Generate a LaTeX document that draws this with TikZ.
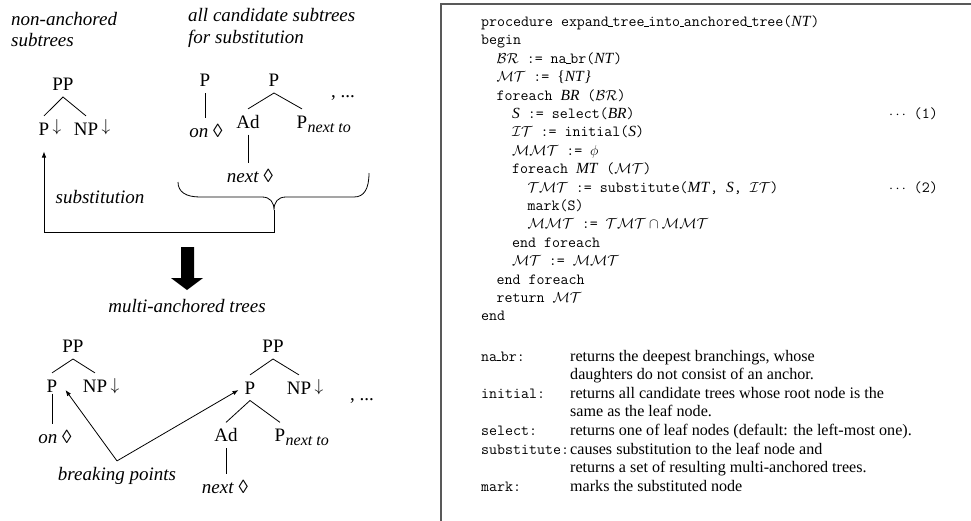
\documentclass[tikz,border=0pt]{standalone}
\usepackage{fontspec}
\setmainfont{Liberation Serif}
\usetikzlibrary{arrows.meta}

% font sizes used in the trees, the procedure and the glossary
\newcommand\trfont{\fontsize{19}{22}\selectfont}
\newcommand\labfont{\fontsize{19}{22}\selectfont\itshape}
\newcommand\idxfont{\fontsize{16}{18}\selectfont\itshape}
\newcommand\arrfont{\fontsize{16}{18}\selectfont}
\newcommand\codefont{\fontsize{15.5}{18}\selectfont\ttfamily}
\newcommand\descfont{\fontsize{16.1}{18}\selectfont}
% low, tight underscore as in classic typewriter listings
\newcommand\uscore{\leavevmode\kern-.03em\vbox{\hrule height .8pt width .3em}\kern-.03em}
% italic variable name inside the listing
\newcommand\vname[1]{\textrm{\itshape #1\/}}

\tikzset{
  lab/.style={inner sep=0pt, outer ysep=6.5pt, text height=12.6pt,
              text depth=0pt, font=\trfont, anchor=base},
  itlab/.style={inner sep=0pt, outer ysep=6.5pt, text height=12.6pt,
              text depth=0pt, font=\labfont, anchor=base},
  caption/.style={inner sep=0pt, font=\labfont, anchor=base west},
  subarr/.style={inner sep=0pt, font=\arrfont, anchor=south},
  idx/.style={inner sep=0pt, font=\idxfont, anchor=base west},
  branch/.style={line width=0.8pt},
  pointer/.style={line width=0.8pt, -{Latex[length=6pt,width=4.5pt]}},
  code/.style={inner sep=0pt, font=\codefont, anchor=base west},
  desc/.style={inner sep=0pt, font=\descfont, anchor=base west},
  frame/.style={line width=1.3pt, black!65},
}

\begin{document}
\begin{tikzpicture}[x=1pt,y=-1pt]
\useasboundingbox (0,0) rectangle (971,520);

% ---------- captions ----------
\node[caption] (cap1a) at (11,25) {non-anchored};
\node[caption] (cap1b) at (11,46.5) {subtrees};
\node[caption] (cap2a) at (188,21.5) {all candidate subtrees};
\node[caption] (cap2b) at (188,43.5) {for substitution};

% ---------- non-anchored subtree ----------
\node[lab] (pp1) at (63,90.5) {PP};
\node[lab] (p1)  at (44,135) {P};
\node[lab] (np1) at (86,135) {NP};
\node[subarr] (a1) at (57,135) {$\downarrow$};
\node[subarr] (a2) at (106,135) {$\downarrow$};
\draw[branch] (p1.north) -- (pp1.south) -- (np1.north);

% ---------- candidate subtrees ----------
\node[lab] (p2)  at (205,86.5) {P};
\node[lab] (on2) at (206,137) {\textit{on} ◊};
\draw[branch] (p2.south) -- (p2.south |- on2.north);

\node[lab] (p3)  at (274,86.5) {P};
\node[lab] (ad3) at (248,128) {Ad};
\node[lab] (pn3) at (302,128) {P};
\node[idx] (pn3i) at ([shift={(0,4)}]pn3.base east) {next to};
\node[lab] (nx3) at (250,182) {\textit{next} ◊};
\draw[branch] (ad3.north) -- (p3.south) -- (pn3.north);
\draw[branch] (ad3.south) -- (ad3.south |- nx3.north);
\node[lab] (etc1) at (343,97) {, ...};

% brace gathering the candidates
\coordinate (btip) at (274,210);
\draw[branch] (178,182) .. controls (178,192) and (186,197) .. (200,197)
  -- (262,197) .. controls (270,197) and (274,202) .. (btip)
  .. controls (274,202) and (278,197) .. (286,197)
  -- (354,197) .. controls (364,197) and (369,189) .. (369,173);

% substitution pointer
\draw[pointer] (btip) -- ++(0,22) -| ([shift={(0,10)}]p1.south);
\node[itlab] (subst) at (100,203) {substitution};

% ---------- big arrow ----------
\fill[black] (181,247) -- (194,247) -- (194,278) -- (203,278) -- (187,290)
  -- (171,278) -- (181,278) -- cycle;
\node[itlab] (multi) at (187,312.5) {multi-anchored trees};

% ---------- multi-anchored trees ----------
\node[lab] (pp4) at (73,352.5) {PP};
\node[lab] (p4)  at (52,392) {P};
\node[lab] (np4) at (95,392) {NP};
\node[subarr] (a4) at (115,394) {$\downarrow$};
\node[lab] (on4) at (55,443.5) {\textit{on} ◊};
\draw[branch] (p4.north) -- (pp4.south) -- (np4.north);
\draw[branch] ([shift={(0,-5)}]p4.south) -- (p4.south |- on4.north);

\node[lab] (pp5) at (273,352.5) {PP};
\node[lab] (p5)  at (250,394) {P};
\node[lab] (np5) at (299,394) {NP};
\node[subarr] (a5) at (319,395) {$\downarrow$};
\node[lab] (ad5) at (226,441.5) {Ad};
\node[lab] (pn5) at (280,441.5) {P};
\node[idx] (pn5i) at ([shift={(0,4)}]pn5.base east) {next to};
\node[lab] (nx5) at (225,493) {\textit{next} ◊};
\draw[branch] (p5.north) -- (pp5.south) -- (np5.north);
\draw[branch] (ad5.north) -- (p5.south) -- (pn5.north);
\draw[branch] (ad5.south) -- (ad5.south |- nx5.north);
\node[lab] (etc2) at (362,400) {, ...};

% breaking points
\node[itlab] (brk) at (117,480) {breaking points};
\draw[pointer] (brk.north) -- ([shift={(8,-2)}]p4.base east);
\draw[pointer] (brk.north) -- ([shift={(-6,-4)}]p5.base west);

% ---------- procedure box ----------
\draw[frame] (441,525) -- (441,4) -- (976,4);

\node[code] (c1)  at (481,26.5)  {procedure expand\uscore tree\uscore into\uscore anchored\uscore tree(\vname{NT})};
\node[code] (c2)  at (481,44.9)  {begin};
\node[code] (c3)  at (496.5,63.3)  {$\mathcal{BR}$ := na\uscore br(\vname{NT})};
\node[code] (c4)  at (496.5,81.7)  {$\mathcal{MT}$ := \textrm{\{\itshape NT\/\}}};
\node[code] (c5)  at (496.5,100.1) {foreach \vname{BR} ($\mathcal{BR}$)};
\node[code] (c6)  at (512,118.5) {\vname{S} := select(\vname{BR})};
\node[code] (c7)  at (512,136.9) {$\mathcal{IT}$ := initial(\vname{S})};
\node[code] (c8)  at (512,155.3) {$\mathcal{MMT}$ := $\phi$};
\node[code] (c9)  at (512,173.7) {foreach \vname{MT} ($\mathcal{MT}$)};
\node[code] (c10) at (527.5,192.1) {$\mathcal{TMT}$ := substitute(\vname{MT}, \vname{S}, $\mathcal{IT}$)};
\node[code] (c11) at (527.5,210.5) {mark(S)};
\node[code] (c12) at (527.5,228.9) {$\mathcal{MMT}$ := $\mathcal{TMT}\cap\mathcal{MMT}$};
\node[code] (c13) at (512,247.3) {end foreach};
\node[code] (c14) at (512,265.7) {$\mathcal{MT}$ := $\mathcal{MMT}$};
\node[code] (c15) at (496.5,284.1) {end foreach};
\node[code] (c16) at (496.5,302.5) {return $\mathcal{MT}$};
\node[code] (c17) at (481,320.9) {end};

\node[code] (m1) at (889,118.5) {$\cdots$ (1)};
\node[code] (m2) at (889,192.1) {$\cdots$ (2)};

% ---------- glossary ----------
\node[code] (g1) at (481,361) {na\uscore br:};
\node[desc] (g1a) at (570,361) {returns the deepest branchings, whose};
\node[desc] (g1b) at (570,379.6) {daughters do not consist of an anchor.};
\node[code] (g2) at (481,398.3) {initial:};
\node[desc] (g2a) at (570,398.3) {returns all candidate trees whose root node is the};
\node[desc] (g2b) at (570,416.9) {same as the leaf node.};
\node[code] (g3) at (481,435.6) {select:};
\node[desc] (g3a) at (570,435.6) {returns one of leaf nodes (default: the left-most one).};
\node[code] (g4) at (481,454.2) {substitute:};
\node[desc] (g4a) at (570,454.2) {causes substitution to the leaf node and};
\node[desc] (g4b) at (570,472.8) {returns a set of resulting multi-anchored trees.};
\node[code] (g5) at (481,491.5) {mark:};
\node[desc] (g5a) at (570,491.5) {marks the substituted node};
\end{tikzpicture}
\end{document}
